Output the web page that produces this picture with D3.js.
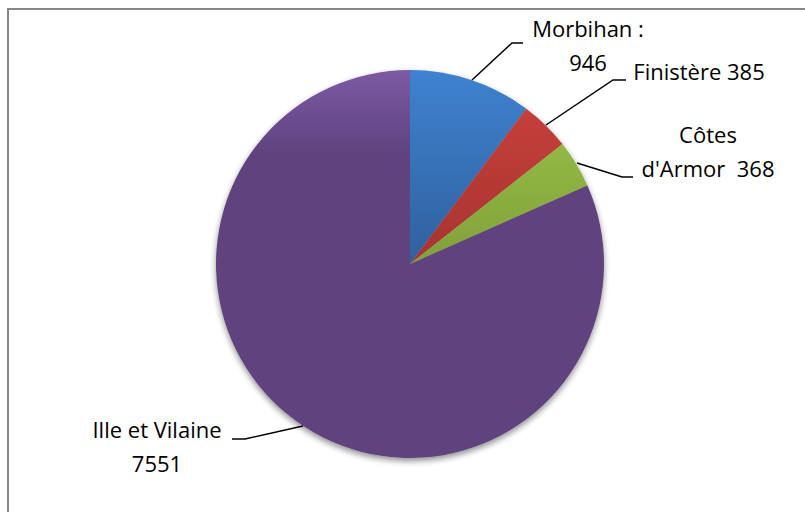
<!DOCTYPE html>
<html><head><meta charset="utf-8">
<script src="https://cdn.jsdelivr.net/npm/d3@7"></script>
<style>html,body{margin:0;padding:0;background:#fff;}svg{display:block;}</style>
</head><body>
<svg id="chart" width="805" height="512"></svg>
<script>
const categories = ["Morbihan", "Finistère", "Côtes d'Armor", "Ille et Vilaine"];
const values = [946, 385, 368, 7551];
const labelLines = [["Morbihan :", "946"], ["Finistère 385"], ["Côtes", "d'Armor  368"], ["Ille et Vilaine", "7551"]];
const colorsTop = ["#3f82d0", "#cc423d", "#9fc74d", "#7d5aa5"];
const colorsBot = ["#2e5f9b", "#a53330", "#7f9f38", "#5e427e"];

const svg = d3.select("#chart");
const cx = 410, cy = 264, r = 194;

svg.append("rect").attr("x", 8).attr("y", 9).attr("width", 820).attr("height", 520)
  .attr("fill", "#fff").attr("stroke", "#868686").attr("stroke-width", 2);

const defs = svg.append("defs");
const f = defs.append("filter").attr("id", "sh").attr("x", "-20%").attr("y", "-20%").attr("width", "140%").attr("height", "140%");
f.append("feGaussianBlur").attr("in", "SourceAlpha").attr("stdDeviation", 3).attr("result", "b");
f.append("feOffset").attr("in", "b").attr("dx", 0).attr("dy", 3).attr("result", "o");
f.append("feComponentTransfer").attr("in", "o").attr("result", "s").append("feFuncA").attr("type", "linear").attr("slope", 0.45);
const fm = f.append("feMerge");
fm.append("feMergeNode").attr("in", "s");
fm.append("feMergeNode").attr("in", "SourceGraphic");

categories.forEach((c, i) => {
  const g = defs.append("linearGradient").attr("id", "g" + i)
    .attr("gradientUnits", "userSpaceOnUse")
    .attr("x1", 0).attr("y1", -r).attr("x2", 0).attr("y2", r);
  g.append("stop").attr("offset", "0%").attr("stop-color", colorsTop[i]);
  g.append("stop").attr("offset", i === 3 ? "22%" : "52%").attr("stop-color", colorsBot[i]);
  g.append("stop").attr("offset", "100%").attr("stop-color", colorsBot[i]);
});

const pie = d3.pie().sort(null).value(d => d)(values);
const arc = d3.arc().innerRadius(0).outerRadius(r);

const gp = svg.append("g").attr("transform", `translate(${cx},${cy})`).attr("filter", "url(#sh)");
gp.selectAll("path").data(pie).enter().append("path")
  .attr("d", arc)
  .attr("fill", (d, i) => `url(#g${i})`);

const labelPos = [
  {x: 588, y: 37, line: [[472, 80], [512, 43], [523, 43]]},
  {x: 699, y: 80, line: [[546, 125], [613, 80], [626, 80]]},
  {x: 708, y: 143, line: [[577, 163], [622, 177], [633, 177]]},
  {x: 157, y: 438, line: [[303, 426], [245, 439], [232, 439]]}
];
const lineGap = 34;
const lbl = svg.append("g");
pie.forEach((d, i) => {
  const p = labelPos[i];
  lbl.append("path")
    .attr("d", d3.line()(p.line))
    .attr("fill", "none").attr("stroke", "#000").attr("stroke-width", 1.5);
  const t = lbl.append("text").attr("text-anchor", "middle")
    .attr("font-family", "'Open Sans', sans-serif").attr("font-size", 22).attr("fill", "#000");
  labelLines[i].forEach((ln, k) => {
    t.append("tspan").attr("x", p.x).attr("y", p.y + k * lineGap).attr("xml:space", "preserve").text(ln);
  });
});
</script>
</body></html>
